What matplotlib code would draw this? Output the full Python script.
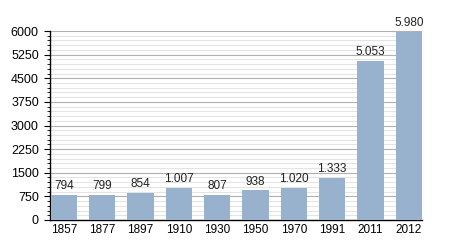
import matplotlib
matplotlib.use('Agg')
from matplotlib import pyplot as plt
from matplotlib.ticker import MultipleLocator

plt.rcParams['font.family'] = ['Liberation Sans', 'DejaVu Sans']

# population by year
years = ['1857', '1877', '1897', '1910', '1930', '1950', '1970', '1991', '2011', '2012']
population = [794, 799, 854, 1007, 807, 938, 1020, 1333, 5053, 5980]
bar_labels = ['794', '799', '854', '1.007', '807', '938', '1.020', '1.333', '5.053', '5.980']

fig = plt.figure(figsize = (4.5, 2.5), dpi = 100)
ax = fig.add_axes([0.111, 0.12, 0.827, 0.756])

x = range(len(years))
ax.bar(x, population, width = 0.69, color = '#98b1cc', zorder = 3)
for i, (v, lab) in enumerate(zip(population, bar_labels)):
    ax.text(i, v + 90, lab, ha = 'center', va = 'bottom', fontsize = 8.5, color = '#222222')

ax.set_xlim(-0.36, 9.345)
ax.set_ylim(0, 6000)
ax.set_xticks(list(x))
ax.set_xticklabels(years)
ax.yaxis.set_major_locator(MultipleLocator(750))
ax.yaxis.set_minor_locator(MultipleLocator(150))
ax.grid(which = 'major', axis = 'y', color = '#b0b0b0', linewidth = 0.8, zorder = 0)
ax.grid(which = 'minor', axis = 'y', color = '#e4e4e4', linewidth = 0.8, zorder = 0)
ax.tick_params(axis = 'y', which = 'major', length = 4, labelsize = 9, pad = 4)
ax.tick_params(axis = 'y', which = 'minor', length = 2)
ax.tick_params(axis = 'x', length = 0, labelsize = 8.5, pad = 3)
for s in ['top', 'right']:
    ax.spines[s].set_visible(False)
ax.spines['left'].set_linewidth(1)
ax.spines['bottom'].set_linewidth(1)

plt.savefig('out.png', dpi = 100)
